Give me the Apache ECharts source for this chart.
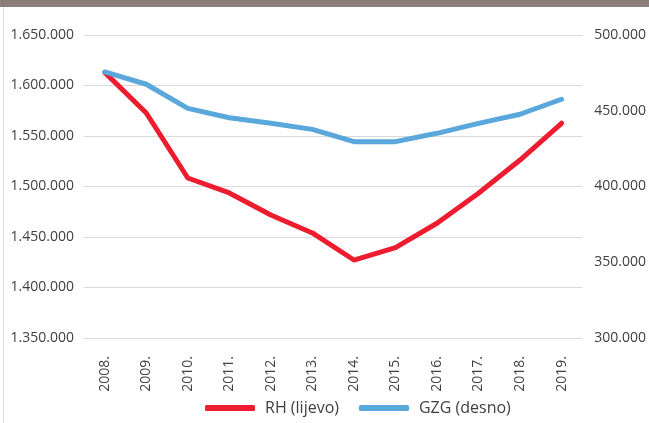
<!DOCTYPE html>
<html>
<head>
<meta charset="utf-8">
<style>
  html, body { margin: 0; padding: 0; background: #fff; }
  #chart { width: 649px; height: 423px; }
</style>
<script src="https://cdn.jsdelivr.net/npm/echarts@6/dist/echarts.min.js"></script>
</head>
<body>
<div id="chart"></div>
<script>
// godine
var xAxisData = ["2008.", "2009.", "2010.", "2011.", "2012.", "2013.", "2014.", "2015.", "2016.", "2017.", "2018.", "2019."];
// RH (lijevo)
var rhData = [1613000, 1572800, 1508400, 1493600, 1471800, 1454000, 1427200, 1439400, 1463600, 1493300, 1526200, 1562600];
// GZG (desno)
var gzgData = [475600, 467500, 451600, 445400, 441700, 437700, 429600, 429600, 435100, 441700, 447700, 457600];

// tisuce s tockom
function fmt(v) {
  return String(Math.round(v)).replace(/\B(?=(\d{3})+(?!\d))/g, ".");
}

var fontFamily = "'Open Sans', 'Noto Sans', sans-serif";
var txtColor = "#404040";

var chart = echarts.init(document.getElementById("chart"));
chart.setOption({
  animation: false,
  textStyle: { fontFamily: fontFamily },
  graphic: [
    { type: "rect", left: 0, top: 0, shape: { width: 649, height: 7 }, style: { fill: "#8a7f78" } },
    { type: "rect", left: 3, top: 7, shape: { width: 1, height: 416 }, style: { fill: "#d9d9d9" } }
  ],
  grid: { left: 84, right: 64, top: 35, bottom: 85, containLabel: false },
  legend: {
    bottom: 2,
    left: 200,
    itemWidth: 50,
    itemHeight: 6,
    itemGap: 20,
    icon: "roundRect",
    textStyle: { color: txtColor, fontSize: 16, fontFamily: fontFamily, padding: [0, 0, 0, 5] },
    data: ["RH (lijevo)", "GZG (desno)"]
  },
  xAxis: {
    type: "category",
    data: xAxisData,
    boundaryGap: true,
    axisLine: { show: false },
    axisTick: { show: false },
    axisLabel: { rotate: 90, color: txtColor, fontSize: 14, margin: 18 }
  },
  yAxis: [
    {
      type: "value",
      min: 1350000,
      max: 1650000,
      interval: 50000,
      axisLine: { show: false },
      axisTick: { show: false },
      axisLabel: { color: txtColor, fontSize: 14, margin: 10, formatter: fmt },
      splitLine: { lineStyle: { color: "#d9d9d9", width: 1 } }
    },
    {
      type: "value",
      min: 300000,
      max: 500000,
      interval: 50000,
      axisLine: { show: false },
      axisTick: { show: false },
      axisLabel: { color: txtColor, fontSize: 14, margin: 12, formatter: fmt },
      splitLine: { show: false }
    }
  ],
  series: [
    {
      name: "RH (lijevo)",
      type: "line",
      yAxisIndex: 0,
      data: rhData,
      symbol: "none",
      lineStyle: { color: "#ed1c2e", width: 5, cap: "round", join: "round" },
      itemStyle: { color: "#ed1c2e" },
      z: 2
    },
    {
      name: "GZG (desno)",
      type: "line",
      yAxisIndex: 1,
      data: gzgData,
      symbol: "none",
      lineStyle: { color: "#5aa7dc", width: 5, cap: "round", join: "round" },
      itemStyle: { color: "#5aa7dc" },
      z: 3
    }
  ]
});
</script>
</body>
</html>
